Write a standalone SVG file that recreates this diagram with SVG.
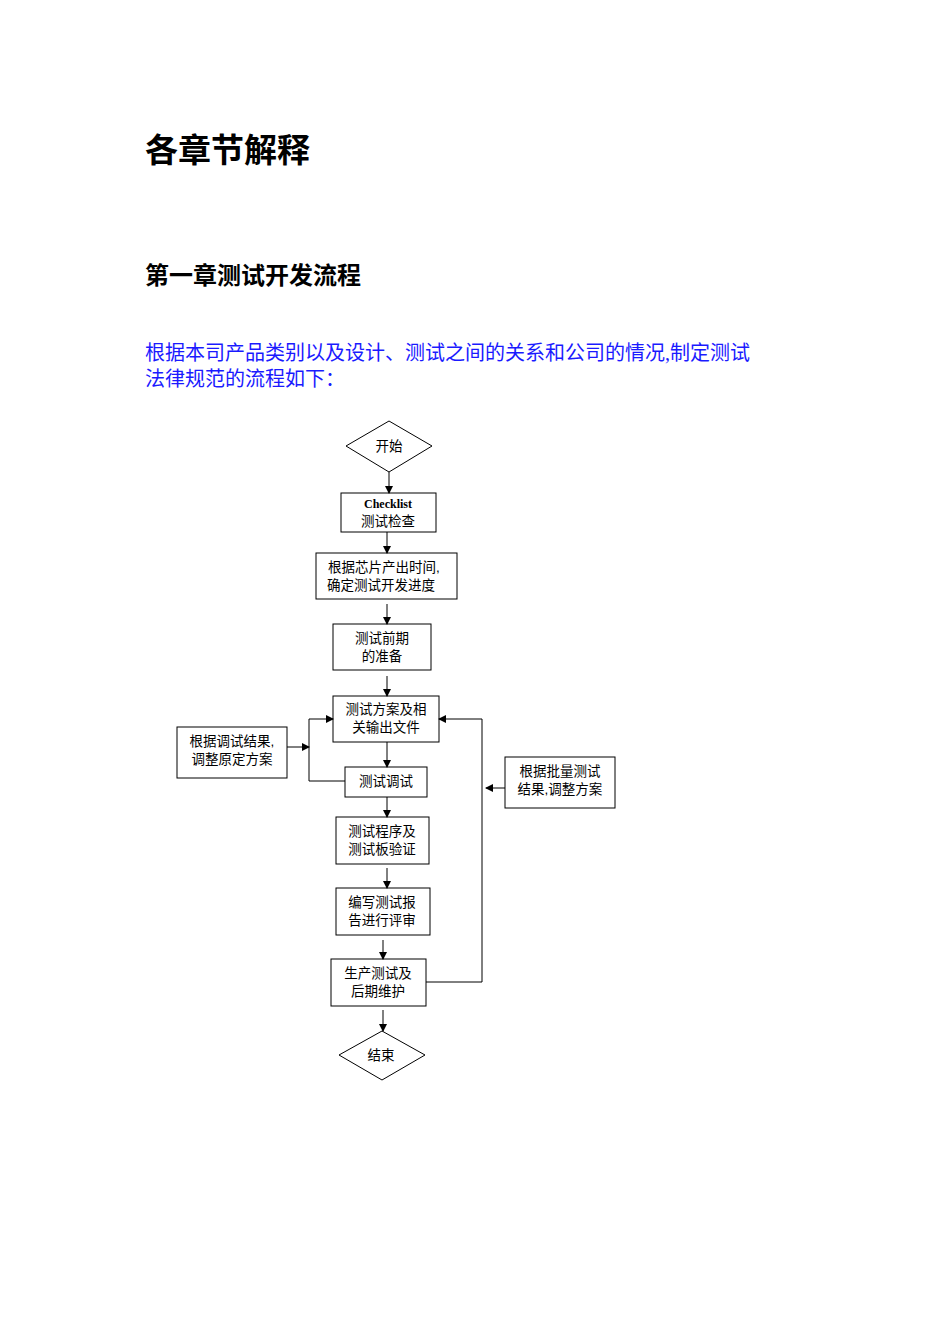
<svg xmlns="http://www.w3.org/2000/svg" width="950" height="1344" viewBox="0 0 950 1344">
<style>
.n{fill:#fff;stroke:#000;stroke-width:1}
.t{font-family:"Liberation Sans","Noto Sans CJK SC",sans-serif;font-size:13.5px;fill:#000;text-anchor:middle}
.c{fill:none;stroke:#000;stroke-width:1;marker-end:url(#a)}
.h{font-family:"Liberation Serif","Noto Sans CJK SC",serif;font-weight:bold;fill:#000}
.p{font-family:"Liberation Serif","Noto Sans CJK SC",serif;font-size:20px;fill:#1a1aff}
</style>
<defs><marker id="a" markerWidth="8" markerHeight="8" refX="7" refY="4" orient="auto" markerUnits="userSpaceOnUse"><path d="M0,0 L8,4 L0,8 z" fill="#000"/></marker></defs>
<rect width="950" height="1344" fill="#fff"/>
<text class="h" x="145" y="162" font-size="33">各章节解释</text>
<text class="h" x="145" y="284" font-size="24">第一章测试开发流程</text>
<text class="p" x="145" y="360">根据本司产品类别以及设计、测试之间的关系和公司的情况,制定测试</text>
<text class="p" x="145" y="386">法律规范的流程如下：</text>
<g id="start"><polygon class="n" points="389,421 432,446 389,472 346,446"/><text class="t" x="389" y="451">开始</text></g>
<g id="checklist"><rect class="n" x="341" y="493" width="95" height="39"/><text class="t" x="388" y="508" style="font-family:'Liberation Serif',serif;font-weight:bold;font-size:12px">Checklist</text><text class="t" x="388" y="526">测试检查</text></g>
<g id="chip"><rect class="n" x="316" y="553" width="141" height="46"/><text class="t" x="384" y="572">根据芯片产出时间,</text><text class="t" x="381" y="590">确定测试开发进度</text></g>
<g id="prep"><rect class="n" x="333" y="624" width="98" height="46"/><text class="t" x="382" y="643">测试前期</text><text class="t" x="382" y="661">的准备</text></g>
<g id="plan"><rect class="n" x="333" y="696" width="106" height="46"/><text class="t" x="386" y="714">测试方案及相</text><text class="t" x="386" y="732">关输出文件</text></g>
<g id="adjust1"><rect class="n" x="177" y="727" width="110" height="51"/><text class="t" x="232" y="746">根据调试结果,</text><text class="t" x="232" y="764">调整原定方案</text></g>
<g id="debug"><rect class="n" x="345" y="767" width="82" height="30"/><text class="t" x="386" y="786">测试调试</text></g>
<g id="verify"><rect class="n" x="336" y="817" width="93" height="47"/><text class="t" x="382" y="836">测试程序及</text><text class="t" x="382" y="854">测试板验证</text></g>
<g id="report"><rect class="n" x="336" y="888" width="94" height="47"/><text class="t" x="382" y="907">编写测试报</text><text class="t" x="382" y="925">告进行评审</text></g>
<g id="prod"><rect class="n" x="331" y="959" width="95" height="47"/><text class="t" x="378" y="978">生产测试及</text><text class="t" x="378" y="996">后期维护</text></g>
<g id="adjust2"><rect class="n" x="505" y="757" width="110" height="51"/><text class="t" x="560" y="776">根据批量测试</text><text class="t" x="560" y="794">结果,调整方案</text></g>
<g id="end"><polygon class="n" points="382,1031 425,1055 382,1080 339,1055"/><text class="t" x="381" y="1060">结束</text></g>
<g id="connectors">
<path class="c" d="M389,472 V493"/>
<path class="c" d="M387,532 V553"/>
<path class="c" d="M387,604 V624"/>
<path class="c" d="M387,676 V696"/>
<path class="c" d="M387,742 V767"/>
<path class="c" d="M387,797 V817"/>
<path class="c" d="M387,868 V888"/>
<path class="c" d="M383,940 V959"/>
<path class="c" d="M383,1010 V1031"/>
<path class="c" d="M345,781 H309 V719 H333"/>
<path class="c" d="M287,747 H309"/>
<path class="c" d="M426,982 H482 V719 H439"/>
<path class="c" d="M505,788 H486"/>
</g>
</svg>
